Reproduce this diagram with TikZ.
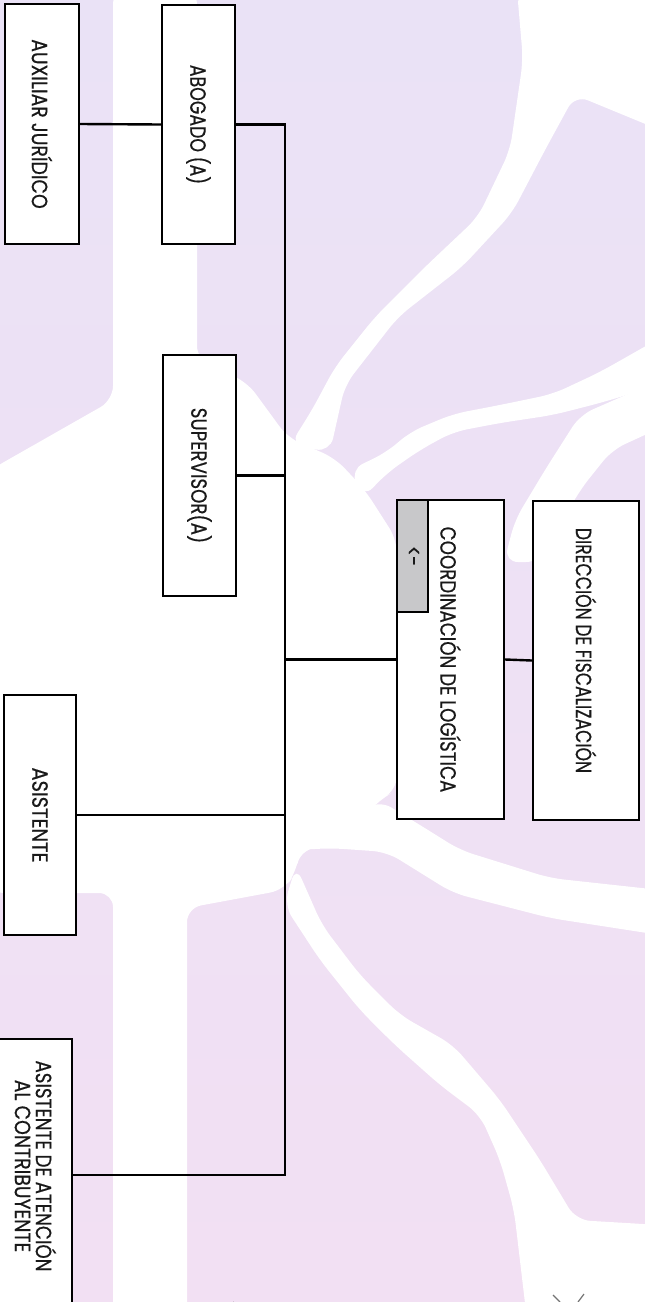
\documentclass[tikz,border=0pt]{standalone}
\usepackage{fontspec}
\setmainfont{Poppins}
\newfontfamily\boxfont{Poppins}[FakeBold=0.6]
\usepackage{graphicx}
\definecolor{lavtop}{RGB}{234,226,246}
\definecolor{lavbot}{RGB}{242,224,243}
\definecolor{tabgray}{RGB}{200,200,202}
\definecolor{inkc}{RGB}{25,25,25}
\newcommand\sqz[2]{\scalebox{#1}[1]{#2}}
\begin{document}
\begin{tikzpicture}[x=1pt,y=-1pt,
  box/.style={draw=black, line width=2.4pt, fill=white, rotate=-90, inner sep=0pt,
              font=\boxfont\fontsize{22}{25}\selectfont, text=inkc, align=center},
  lbl/.style={rotate=-90, inner sep=0pt, font=\boxfont\fontsize{22}{25}\selectfont, text=inkc, align=center},
  conn/.style={line width=2.4pt, draw=black},
  wh/.style={fill=white, rounded corners=14pt}]
\useasboundingbox (0,0) rectangle (645,1302);
% background watermark
\shade[top color=lavtop, bottom color=lavbot] (0,0) rectangle (645,1302);
% centre white region
\fill[wh] (-10,470) -- (113,400) -- (113,-10) -- (197,-10) -- (197,360) -- (247,382)
  -- (288,438) -- (335,458) -- (365,490) -- (397,540) -- (397,790) -- (379,800)
  -- (340,845) -- (300,850) -- (296,872) -- (284,890) -- (187,908) -- (187,1320)
  -- (113,1320) -- (113,893) -- (-10,893) -- cycle;
% band A (top right to centre)
\fill[wh] (517,-10) -- (523,60) -- (510,150) -- (478,217) -- (425,267) -- (375,317)
  -- (335,367) -- (312,410) -- (290,445) -- (330,452) -- (345,385) -- (398,317)
  -- (462,267) -- (512,213) -- (545,150) -- (575,95) -- (660,130) -- (660,-10) -- cycle;
% band B
\fill[wh] (660,338) -- (600,372) -- (553,394) -- (500,405) -- (453,414) -- (410,432)
  -- (387,452) -- (350,470) -- (363,498) -- (387,473) -- (420,450) -- (453,432)
  -- (500,423) -- (553,415) -- (600,403) -- (660,385) -- cycle;
% band C
\fill[wh] (580,415) -- (660,380) -- (660,428) -- (612,450) -- (580,490) -- (540,562)
  -- (504,562) -- (515,520) -- (545,470) -- cycle;
% band 1 (below coordination)
\fill[wh] (379,800) -- (420,825) -- (460,850) -- (550,878) -- (660,890) -- (660,935)
  -- (550,918) -- (453,893) -- (387,852) -- (330,848) -- (300,850) -- cycle;
% band 2 (down to bottom right)
\fill[wh] (296,866) -- (322,925) -- (360,975) -- (400,1015) -- (453,1045) -- (500,1100)
  -- (540,1160) -- (576,1220) -- (660,1225) -- (660,1320) -- (527,1320) -- (514,1210)
  -- (500,1160) -- (480,1115) -- (440,1085) -- (395,1045) -- (360,1010) -- (320,960)
  -- (284,905) -- cycle;
% faint marks at the bottom
\draw[black!55, line width=1.4pt] (233,1302) arc[start angle=160, end angle=40, radius=12];
\draw[black!55, line width=1.2pt] (553,1295) -- (560,1302) (578,1302) -- (584,1294);

% boxes
\node[box, minimum width=240pt, minimum height=74pt] (aux) at (42,124) {\sqz{0.855}{AUXILIAR JURÍDICO}};
\node[box, minimum width=239pt, minimum height=73pt] (abog) at (198.5,124.5) {\sqz{0.79}{ABOGADO (A)}};
\node[box, minimum width=241pt, minimum height=73pt] (sup) at (199.5,475.5) {\sqz{0.827}{SUPERVISOR(A)}};
\node[box, minimum width=319pt, minimum height=107pt] (coord) at (450.5,659.5) {\sqz{0.827}{COORDINACIÓN DE LOGÍSTICA}};
\node[box, minimum width=319pt, minimum height=106pt] (dir) at (586,660.5) {\sqz{0.78}{DIRECCIÓN DE FISCALIZACIÓN}\hspace*{20pt}};
\node[box, minimum width=240pt, minimum height=72pt] (asis) at (40,815) {\sqz{0.88}{ASISTENTE}};
\node[box, minimum width=272pt, minimum height=92pt] (aac) at (26,1175) {};
\node[lbl] (aact) at (35.5,1166) {\sqz{0.827}{ASISTENTE DE ATENCIÓN}\\[-4pt]\sqz{0.855}{AL CONTRIBUYENTE}};
\node[box, fill=tabgray, minimum width=112pt, minimum height=31pt] (tab) at (412.5,556) {\sqz{0.82}{<-}};

% connectors
\coordinate (vtop) at (285,124.5);
\coordinate (vbot) at (285,1175);
\draw[conn] (aux.north) -- (abog.south);
\draw[conn] (abog.north) -- (vtop) -- (vbot) -- (aac.north);
\draw[conn] (sup.north) -- (sup.north -| vtop);
\draw[conn] (coord.south) -- (coord.south -| vtop);
\draw[conn] (asis.north) -- (asis.north -| vtop);
\draw[conn] (coord.north) -- (dir.south);
\end{tikzpicture}
\end{document}
